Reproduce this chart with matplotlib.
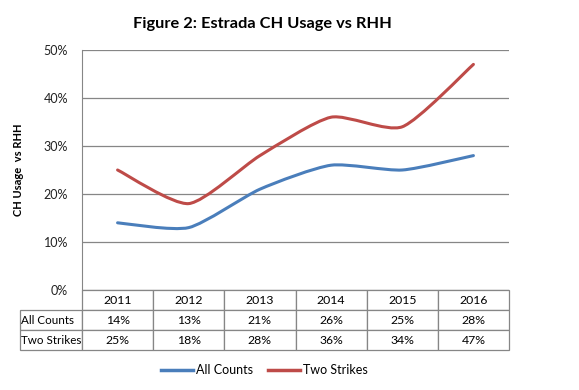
import matplotlib.pyplot as plt
from matplotlib.path import Path
from matplotlib.patches import PathPatch
from matplotlib.lines import Line2D
from matplotlib.ticker import PercentFormatter

years = ["2011", "2012", "2013", "2014", "2015", "2016"]
all_counts = [14, 13, 21, 26, 25, 28]
two_strikes = [25, 18, 28, 36, 34, 47]
series_names = ["All Counts", "Two Strikes"]
series_colors = ["#4A7EBB", "#BE4B48"]

plt.rcParams["font.family"] = ["Lato", "DejaVu Sans"]


def smooth_path(xs, ys, k=9):
    """Bezier path through the points, light Excel-style smoothing."""
    pts = list(zip(xs, ys))
    verts = [pts[0]]
    codes = [Path.MOVETO]
    n = len(pts)
    for i in range(n - 1):
        p0 = pts[i - 1] if i > 0 else pts[i]
        p1 = pts[i]
        p2 = pts[i + 1]
        p3 = pts[i + 2] if i + 2 < n else pts[i + 1]
        c1 = (p1[0] + (p2[0] - p0[0]) / k, p1[1] + (p2[1] - p0[1]) / k)
        c2 = (p2[0] - (p3[0] - p1[0]) / k, p2[1] - (p3[1] - p1[1]) / k)
        verts += [c1, c2, p2]
        codes += [Path.CURVE4] * 3
    return Path(verts, codes)


fig = plt.figure(figsize=(5.79, 3.9), dpi=100)
ax = fig.add_axes([82 / 579, 100 / 390, 427 / 579, 240 / 390])

xs = [i + 0.5 for i in range(len(years))]
for vals, color in zip([all_counts, two_strikes], series_colors):
    patch = PathPatch(smooth_path(xs, vals), facecolor="none", edgecolor=color,
                      lw=2.2, capstyle="round", joinstyle="round", zorder=3)
    ax.add_patch(patch)

ax.set_xlim(0, len(years))
ax.set_ylim(0, 50)
ax.set_yticks(range(0, 51, 10))
ax.yaxis.set_major_formatter(PercentFormatter(decimals=0))
ax.set_xticks([])
ax.tick_params(axis="y", length=0, pad=10, labelsize=9, colors="#222222")
ax.grid(axis="y", color="#868686", lw=0.9)
ax.set_axisbelow(True)
for side in ["top", "right", "bottom"]:
    ax.spines[side].set_visible(False)
ax.spines["left"].set_color("#868686")

ax.yaxis.set_label_coords(-58 / 427, 0.5)
ax.set_ylabel("CH Usage  vs RHH", fontsize=8, fontweight="bold")
fig.text(262 / 579, 366 / 390, "Figure 2: Estrada CH Usage vs RHH",
         ha="center", va="center", fontsize=11.8, fontweight="bold")

# data table under the plot
cell_text = [[""] + years,
             [series_names[0]] + [f"{v}%" for v in all_counts],
             [series_names[1]] + [f"{v}%" for v in two_strikes]]
label_w = 62 / 427
tbl = ax.table(cellText=cell_text, cellLoc="center",
               colWidths=[label_w] + [1 / 6] * 6,
               bbox=[-label_w, -60 / 240, 1 + label_w, 60 / 240])
tbl.auto_set_font_size(False)
tbl.set_fontsize(8.8)
for (r, c), cell in tbl.get_celld().items():
    cell.set_edgecolor("#868686")
    cell.set_linewidth(0.9)
    if c == 0:
        cell.set_text_props(ha="left", fontsize=8.4)
        cell.PAD = 0.02
        if r == 0:
            cell.visible_edges = ""

handles = [Line2D([], [], color=c, lw=2.5) for c in series_colors]
fig.legend(handles, series_names, loc="center", bbox_to_anchor=(264 / 579, 20 / 390),
           ncol=2, frameon=False, fontsize=9, handlelength=2.6,
           columnspacing=1.2, handletextpad=0.2)

fig.savefig("out.png", dpi=100)
